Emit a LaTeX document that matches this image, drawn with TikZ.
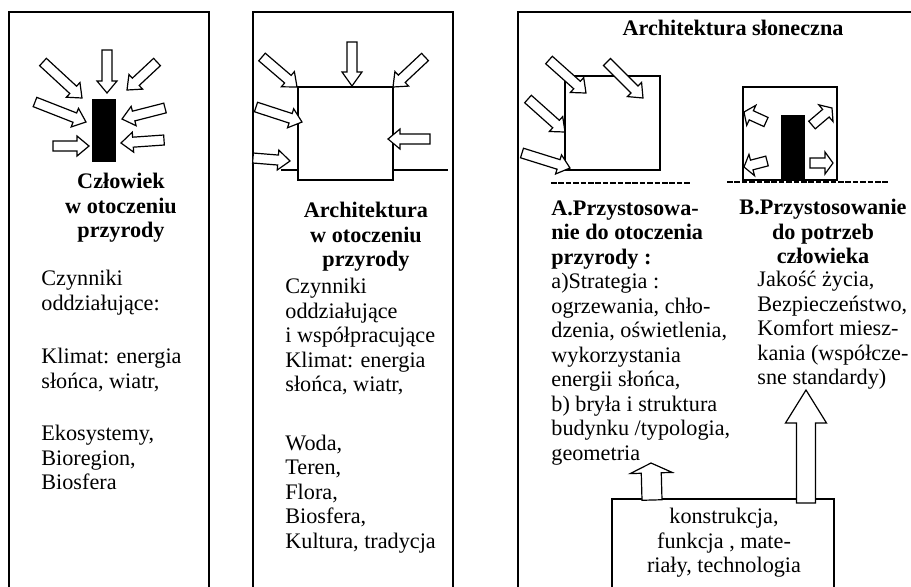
\documentclass[tikz,border=0pt]{standalone}
\usepackage{fontspec}
\setmainfont{Liberation Serif}
\usetikzlibrary{calc}

% hollow block arrow: tail, tip, half shaft, half head, head length
\newcommand{\blockarrow}[5]{%
  \coordinate (bt) at (#1);
  \coordinate (bp) at (#2);
  \coordinate (bh) at ($(bp)!#5!(bt)$);
  \draw[blockarr] ($(bt)!#3!90:(bp)$) -- ($(bh)!#3!90:(bp)$) -- ($(bh)!#4!90:(bp)$)
    -- (bp) -- ($(bh)!#4!-90:(bp)$) -- ($(bh)!#3!-90:(bp)$) -- ($(bt)!#3!-90:(bp)$) -- cycle;
}

\begin{document}
\begin{tikzpicture}[
    x=0.5pt, y=-0.5pt,
    txt/.style={font=\fontsize{11.1}{12.25}\selectfont, inner sep=0pt},
    body/.style={txt, align=left, anchor=north west},
    head/.style={inner sep=0pt, font=\fontsize{11.1}{12.25}\selectfont\bfseries, align=center, anchor=north},
    panel/.style={line width=1.15pt},
    bldg/.style={draw, line width=0.9pt, fill=white},
    blockarr/.style={line width=0.6pt, fill=white, line join=miter},
    ground/.style={line width=1.3pt, dash pattern=on 2.8pt off 0.9pt},
]
    \useasboundingbox (0,0) rectangle (911,586);
    \clip (0,0) rectangle (911,586);

    % panel frames
    \draw[panel] (9,12) rectangle (209,600);
    \draw[panel] (253,12) rectangle (453,600);
    \draw[panel] (518,600) -- (518,12) -- (915,12);

    % Panel 1: man among nature
    \fill (92,99) rectangle (116,162);
    \blockarrow{107,50}{107,93}{2.5pt}{5pt}{6pt}
    \blockarrow{43,62}{82,98}{2.5pt}{5pt}{6pt}
    \blockarrow{157,62}{127,90}{2.5pt}{5pt}{6pt}
    \blockarrow{35,102}{86,122}{2.5pt}{5pt}{6pt}
    \blockarrow{165,108}{122,119}{2.5pt}{5pt}{6pt}
    \blockarrow{53,146}{89,146}{2.5pt}{5pt}{6pt}
    \blockarrow{164,140}{121,143}{2.5pt}{5pt}{6pt}
    \node[head] (h1) at (121,173) {Człowiek\\w otoczeniu\\przyrody};
    \node[body] (t1) at (41,270) {Czynniki\\oddziałujące:\\[14.5pt]Klimat: energia\\słońca, wiatr,\\[14pt]Ekosystemy,\\Bioregion,\\Biosfera};

    % Panel 2: building among nature
    \draw[line width=1pt] (281,170) -- (448,170);
    \draw[bldg] (298,87) rectangle (393,180);
    \blockarrow{352,42}{352,86}{2.5pt}{5pt}{7pt}
    \blockarrow{262,57}{297,87}{2.5pt}{5pt}{6pt}
    \blockarrow{425,57}{393,87}{2.5pt}{5pt}{6pt}
    \blockarrow{256,107}{302,122}{2.5pt}{5pt}{6pt}
    \blockarrow{430,139}{388,139}{2.5pt}{5pt}{6pt}
    \blockarrow{253,158}{290,161}{2.5pt}{5pt}{6pt}
    \node[head] (h2) at (366,202) {Architektura\\w otoczeniu\\przyrody};
    \node[body] (t2) at (285,278) {Czynniki\\oddziałujące\\i współpracujące\\Klimat: energia\\słońca, wiatr,\\[17pt]Woda,\\Teren,\\Flora,\\Biosfera,\\Kultura, tradycja};

    % Panel 3: solar architecture
    \node[txt, font=\fontsize{11.1}{12.25}\selectfont\bfseries, anchor=base] (h3) at (733,35) {Architektura słoneczna};

    % A: adaptation to nature
    \draw[bldg] (565,76) rectangle (660,170);
    \draw[ground] (551,183) -- (691,183);
    \blockarrow{549,60}{586,93}{2.5pt}{5pt}{6pt}
    \blockarrow{607,62}{643,98}{2.5pt}{5pt}{6pt}
    \blockarrow{528,99}{565,132}{2.5pt}{5pt}{6pt}
    \blockarrow{522,153}{570,168}{2.5pt}{5pt}{6pt}
    \node[body] (ta) at (551,200) {\textbf{A.Przystosowa-}\\\textbf{nie do otoczenia}\\\textbf{przyrody :}\\a)Strategia :\\ogrzewania, chło-\\dzenia, oświetlenia,\\wykorzystania\\energii słońca,\\b) bryła i struktura\\budynku /typologia,\\geometria};

    % B: adaptation to human needs
    \draw[ground] (727,182) -- (889,182);
    \draw[bldg] (743,87) rectangle (837,180);
    \fill (781,115) rectangle (805,180);
    \blockarrow{766,122}{744,112}{2.5pt}{5.5pt}{4pt}
    \blockarrow{812,125}{832,108}{2.5pt}{5.5pt}{4pt}
    \blockarrow{767,161}{744,167}{2.5pt}{5.5pt}{4pt}
    \blockarrow{810,163}{833,163}{2.5pt}{5.5pt}{4pt}
    \node[head] (hb) at (823,199) {B.Przystosowanie\\do potrzeb\\człowieka};
    \node[body] (tb) at (757,271) {Jakość życia,\\Bezpieczeństwo,\\Komfort miesz-\\kania (współcze-\\sne standardy)};

    % common base
    \draw[line width=1pt, fill=white] (612,499) rectangle (834,600);
    \node[txt, align=center, anchor=north] (base) at (724,508) {konstrukcja,\\funkcja , mate-\\riały, technologia};
    \blockarrow{652,500}{651,463}{5pt}{10.5pt}{5pt}
    \blockarrow{806,503}{806,390}{4.75pt}{10.25pt}{16.5pt}
\end{tikzpicture}
\end{document}
